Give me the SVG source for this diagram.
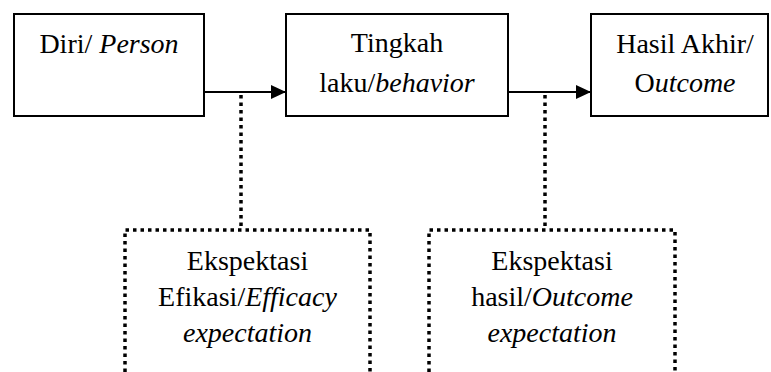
<svg xmlns="http://www.w3.org/2000/svg" width="771" height="372" viewBox="0 0 771 372">
<style>
.box{fill:#fff;stroke:#000;stroke-width:2}
.dbox{fill:none;stroke:#000;stroke-width:3.5;stroke-dasharray:3.5 4}
.t{font-family:"Liberation Serif","Times New Roman","DejaVu Serif",serif;font-size:28px;fill:#000;text-anchor:middle}
.i{font-style:italic}
.line{stroke:#000;stroke-width:2;fill:none}
.dot{stroke:#000;stroke-width:3.5;stroke-dasharray:3.5 4;fill:none}
</style>
<defs>
<marker id="ah" markerUnits="userSpaceOnUse" markerWidth="16" markerHeight="16" refX="15" refY="7" orient="auto">
<path d="M0,0 L15,7 L0,14 Z" fill="#000"/>
</marker>
</defs>
<rect width="771" height="372" fill="#fff"/>
<g id="connectors">
<line class="line" x1="204" y1="92" x2="286" y2="92" marker-end="url(#ah)"/>
<line class="line" x1="508" y1="92" x2="591" y2="92" marker-end="url(#ah)"/>
<line class="dot" x1="241" y1="95" x2="241" y2="230"/>
<line class="dot" x1="545" y1="95" x2="545" y2="230"/>
</g>
<g id="person">
<rect class="box" x="14" y="14" width="190" height="102"/>
<text class="t" x="109" y="53">Diri/ <tspan class="i">Person</tspan></text>
</g>
<g id="behavior">
<rect class="box" x="286" y="14" width="222" height="102"/>
<text class="t" x="397" y="52">Tingkah</text>
<text class="t" x="397" y="92">laku/<tspan class="i">behavior</tspan></text>
</g>
<g id="outcome">
<rect class="box" x="591" y="14" width="177" height="102"/>
<text class="t" x="685" y="53">Hasil Akhir/</text>
<text class="t" x="685" y="92">O<tspan class="i">utcome</tspan></text>
</g>
<g id="efficacy-expectation">
<path class="dbox" d="M125,372 V230 H370 V372"/>
<text class="t" x="247.5" y="270">Ekspektasi</text>
<text class="t" x="247.5" y="306">Efikasi/<tspan class="i">Efficacy</tspan></text>
<text class="t i" x="247.5" y="342">expectation</text>
</g>
<g id="outcome-expectation">
<path class="dbox" d="M429,372 V230 H675 V372"/>
<text class="t" x="552" y="270">Ekspektasi</text>
<text class="t" x="552" y="306">hasil/<tspan class="i">Outcome</tspan></text>
<text class="t i" x="552" y="342">expectation</text>
</g>
</svg>
